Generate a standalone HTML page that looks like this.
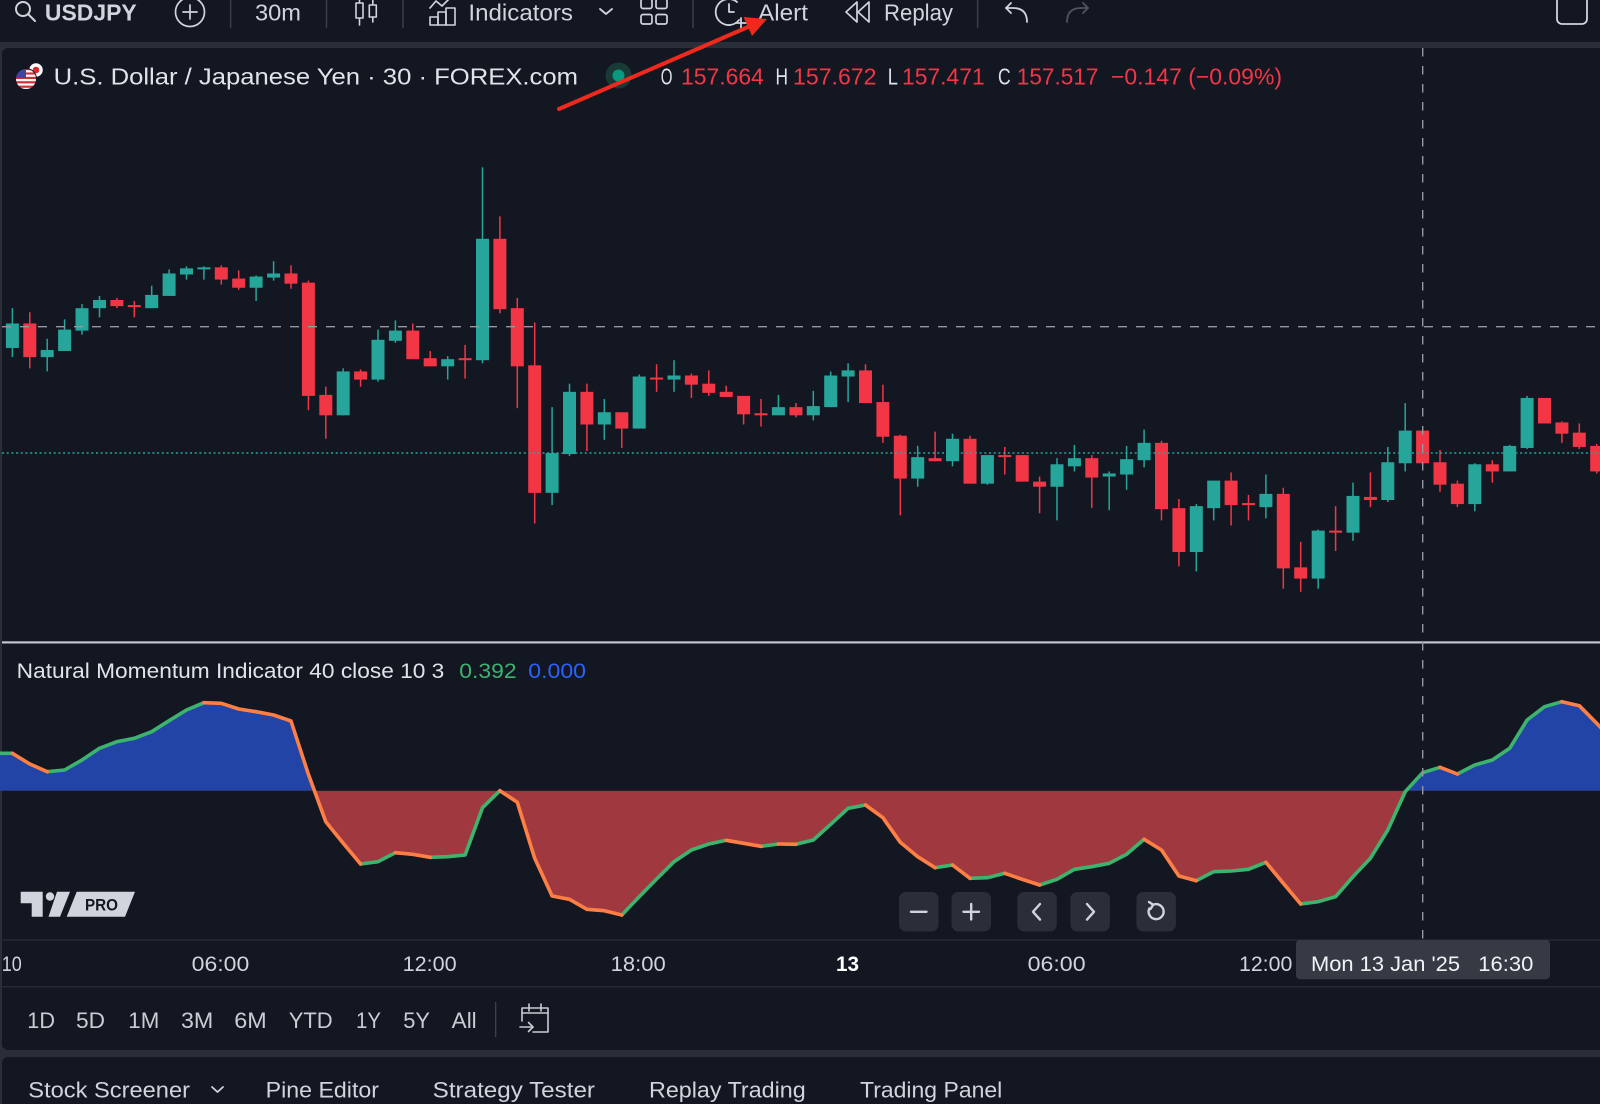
<!DOCTYPE html>
<html><head><meta charset="utf-8"><style>
html,body{margin:0;padding:0;background:#131722;}
svg{display:block;}
text{font-family:"Liberation Sans",Arial,sans-serif;}
</style></head><body>
<svg width="1600" height="1104" viewBox="0 0 1600 1104" xmlns="http://www.w3.org/2000/svg">
<defs>
<clipPath id="cA"><rect x="0" y="640" width="1600" height="150.7"/></clipPath>
<clipPath id="cB"><rect x="0" y="790.7" width="1600" height="150"/></clipPath>
<clipPath id="flagc"><circle cx="26" cy="79" r="10.5"/></clipPath>
</defs>
<rect width="1600" height="1104" fill="#2a2e39"/>
<!-- toolbar -->
<rect x="0" y="-10" width="1600" height="52" fill="#131722"/>
<!-- chart panel -->
<rect x="2" y="48" width="1610" height="1002" rx="6" fill="#131722"/>
<!-- bottom panel -->
<rect x="2" y="1057" width="1610" height="60" rx="6" fill="#131722"/>

<!-- toolbar icons -->
<g fill="none" stroke="#d1d4dc" stroke-width="2" stroke-linecap="round" stroke-linejoin="round">
<circle cx="23" cy="9" r="7"/><line x1="28.5" y1="14.5" x2="35" y2="21"/>
<circle cx="190" cy="12" r="14.5" stroke-width="1.7"/><line x1="183" y1="12" x2="197" y2="12" stroke-width="1.7"/><line x1="190" y1="5" x2="190" y2="19" stroke-width="1.7"/>
<line x1="359.5" y1="0" x2="359.5" y2="25" stroke-width="1.6"/><rect x="356" y="3" width="7" height="15" fill="#131722" stroke-width="1.6"/>
<line x1="372.8" y1="0" x2="372.8" y2="22" stroke-width="1.6"/><rect x="369.3" y="5" width="7" height="12" fill="#131722" stroke-width="1.6"/>
<polyline points="430,8 436,1 442,6 450,-2" stroke-width="1.7"/>
<rect x="430" y="17" width="8" height="8" stroke-width="1.6"/><rect x="438" y="12" width="8" height="13" stroke-width="1.6"/><rect x="446" y="8" width="9" height="17" stroke-width="1.6"/>
<polyline points="600,9 606,14 612,9" stroke-width="1.8"/>
<rect x="641" y="-1" width="11" height="9.5" rx="2" stroke-width="1.7"/><rect x="656" y="-1" width="11" height="9.5" rx="2" stroke-width="1.7"/>
<rect x="641" y="14.5" width="11" height="9.5" rx="2" stroke-width="1.7"/><rect x="656" y="14.5" width="11" height="9.5" rx="2" stroke-width="1.7"/>
<path d="M739 20 A13 13 0 1 1 737 2" stroke-width="1.8"/><polyline points="729,4 729,12 734,12" stroke-width="1.8"/>
<line x1="736" y1="23" x2="746" y2="23" stroke-width="1.8"/><line x1="741" y1="18" x2="741" y2="28" stroke-width="1.8"/>
<polygon points="857,2 846,12 857,22" stroke-width="1.7"/><polygon points="869,2 858,12 869,22" stroke-width="1.7"/>
<path d="M1027 22 Q1027 8 1013 8 H1006" stroke-width="1.8"/><polyline points="1011,3 1006,8 1011,13" stroke-width="1.8"/>
<g stroke="#4f5360"><path d="M1067 22 Q1067 8 1081 8 H1088" stroke-width="1.8"/><polyline points="1083,3 1088,8 1083,13" stroke-width="1.8"/></g>
<rect x="1557" y="-6" width="30" height="30" rx="5" stroke-width="1.8"/>
</g>
<g stroke="#3a3e4a" stroke-width="1.5">
<line x1="230.6" y1="0" x2="230.6" y2="28"/><line x1="326.5" y1="0" x2="326.5" y2="28"/><line x1="403" y1="0" x2="403" y2="28"/><line x1="693" y1="0" x2="693" y2="28"/><line x1="977.6" y1="0" x2="977.6" y2="28"/>
</g>
<g fill="#d1d4dc" font-size="23">
<text x="44.9" y="20.7" font-weight="bold" textLength="91.8" lengthAdjust="spacingAndGlyphs">USDJPY</text>
<text x="255" y="20.7" textLength="46" lengthAdjust="spacingAndGlyphs">30m</text>
<text x="468.4" y="20.7" textLength="104.6" lengthAdjust="spacingAndGlyphs">Indicators</text>
<text x="758" y="20.7" textLength="50" lengthAdjust="spacingAndGlyphs">Alert</text>
<text x="884" y="20.7" textLength="69" lengthAdjust="spacingAndGlyphs">Replay</text>
</g>

<!-- legend row -->
<circle cx="36" cy="70" r="7.5" fill="#ffffff" stroke="#131722" stroke-width="1.5"/><circle cx="36" cy="70" r="3.3" fill="#e0252f"/>
<g clip-path="url(#flagc)">
<rect x="14" y="67" width="25" height="25" fill="#ffffff"/>
<rect x="14" y="68" width="25" height="2.2" fill="#d22f3a"/><rect x="14" y="72.4" width="25" height="2.2" fill="#d22f3a"/><rect x="14" y="76.8" width="25" height="2.2" fill="#d22f3a"/><rect x="14" y="81.2" width="25" height="2.2" fill="#d22f3a"/><rect x="14" y="85.6" width="25" height="2.2" fill="#d22f3a"/>
<rect x="14" y="67" width="12" height="11" fill="#3a4a9a"/>
</g>
<circle cx="26" cy="79" r="10.5" fill="none" stroke="#131722" stroke-width="1"/>
<g font-size="23">
<text x="53.6" y="84.5" fill="#e1e3ea" textLength="524.4" lengthAdjust="spacingAndGlyphs">U.S. Dollar / Japanese Yen · 30 · FOREX.com</text>
<text x="660.7" y="84.5" fill="#e1e3ea" textLength="11.7" lengthAdjust="spacingAndGlyphs">O</text>
<text x="681" y="84.5" fill="#f23645" textLength="82.8" lengthAdjust="spacingAndGlyphs">157.664</text>
<text x="775.5" y="84.5" fill="#e1e3ea" textLength="12.5" lengthAdjust="spacingAndGlyphs">H</text>
<text x="793" y="84.5" fill="#f23645" textLength="83.5" lengthAdjust="spacingAndGlyphs">157.672</text>
<text x="887.8" y="84.5" fill="#e1e3ea" textLength="10.2" lengthAdjust="spacingAndGlyphs">L</text>
<text x="902" y="84.5" fill="#f23645" textLength="82.7" lengthAdjust="spacingAndGlyphs">157.471</text>
<text x="998" y="84.5" fill="#e1e3ea" textLength="12.7" lengthAdjust="spacingAndGlyphs">C</text>
<text x="1016.8" y="84.5" fill="#f23645" textLength="81.7" lengthAdjust="spacingAndGlyphs">157.517</text>
<text x="1111" y="84.5" fill="#f23645" textLength="171" lengthAdjust="spacingAndGlyphs">−0.147 (−0.09%)</text>
</g>
<circle cx="618.5" cy="75.5" r="13" fill="#1a3a36"/><circle cx="618.5" cy="75.5" r="6" fill="#089981"/>

<!-- candles (y in perceived coords, scaled) -->
<g transform="matrix(1,0,0,1.0204,0,0)">
<g fill="#26a69a">
<rect x="11.65" y="302" width="1.5" height="48"/><rect x="5.9" y="317" width="13" height="24"/>
<rect x="46.45" y="332" width="1.5" height="32"/><rect x="40.7" y="343" width="13" height="7"/>
<rect x="63.85" y="313" width="1.5" height="31"/><rect x="58.1" y="323" width="13" height="21"/>
<rect x="81.25" y="298" width="1.5" height="30"/><rect x="75.5" y="302" width="13" height="22"/>
<rect x="98.75" y="290" width="1.5" height="21"/><rect x="93" y="294" width="13" height="8"/>
<rect x="150.95" y="280" width="1.5" height="22"/><rect x="145.2" y="289" width="13" height="13"/>
<rect x="168.35" y="264" width="1.5" height="26"/><rect x="162.6" y="268" width="13" height="22"/>
<rect x="185.75" y="261" width="1.5" height="13"/><rect x="180" y="263" width="13" height="6"/>
<rect x="203.15" y="261" width="1.5" height="13"/><rect x="197.4" y="262" width="13" height="2"/>
<rect x="255.35" y="270" width="1.5" height="25"/><rect x="249.6" y="271" width="13" height="11"/>
<rect x="272.85" y="256" width="1.5" height="19"/><rect x="267.1" y="268" width="13" height="4"/>
<rect x="342.45" y="361" width="1.5" height="46"/><rect x="336.7" y="364" width="13" height="43"/>
<rect x="377.25" y="323" width="1.5" height="51"/><rect x="371.5" y="333" width="13" height="39"/>
<rect x="394.65" y="314" width="1.5" height="22"/><rect x="388.9" y="324" width="13" height="10"/>
<rect x="446.95" y="349" width="1.5" height="23"/><rect x="441.2" y="352" width="13" height="7"/>
<rect x="481.75" y="164" width="1.5" height="192"/><rect x="476" y="234" width="13" height="119"/>
<rect x="551.35" y="399" width="1.5" height="96"/><rect x="545.6" y="444" width="13" height="39"/>
<rect x="568.75" y="376" width="1.5" height="71"/><rect x="563" y="384" width="13" height="61"/>
<rect x="603.55" y="391" width="1.5" height="40"/><rect x="597.8" y="404" width="13" height="12"/>
<rect x="638.45" y="367" width="1.5" height="53"/><rect x="632.7" y="369" width="13" height="51"/>
<rect x="673.25" y="353" width="1.5" height="31"/><rect x="667.5" y="368" width="13" height="4"/>
<rect x="777.65" y="387" width="1.5" height="20"/><rect x="771.9" y="399" width="13" height="8"/>
<rect x="812.55" y="383" width="1.5" height="29"/><rect x="806.8" y="398" width="13" height="9"/>
<rect x="829.95" y="364" width="1.5" height="35"/><rect x="824.2" y="368" width="13" height="31"/>
<rect x="847.35" y="356" width="1.5" height="38"/><rect x="841.6" y="363" width="13" height="6"/>
<rect x="916.95" y="437" width="1.5" height="40"/><rect x="911.2" y="448" width="13" height="21"/>
<rect x="951.75" y="425" width="1.5" height="32"/><rect x="946" y="430" width="13" height="22"/>
<rect x="986.65" y="446" width="1.5" height="29"/><rect x="980.9" y="446" width="13" height="28"/>
<rect x="1056.25" y="449" width="1.5" height="61"/><rect x="1050.5" y="455" width="13" height="22"/>
<rect x="1073.65" y="436" width="1.5" height="26"/><rect x="1067.9" y="449" width="13" height="8"/>
<rect x="1108.45" y="462" width="1.5" height="38"/><rect x="1102.7" y="464" width="13" height="3"/>
<rect x="1125.85" y="437" width="1.5" height="43"/><rect x="1120.1" y="450" width="13" height="15"/>
<rect x="1143.35" y="421" width="1.5" height="37"/><rect x="1137.6" y="434" width="13" height="17"/>
<rect x="1195.55" y="494" width="1.5" height="66"/><rect x="1189.8" y="496" width="13" height="45"/>
<rect x="1212.95" y="471" width="1.5" height="39"/><rect x="1207.2" y="471" width="13" height="27"/>
<rect x="1265.15" y="465" width="1.5" height="43"/><rect x="1259.4" y="484" width="13" height="13"/>
<rect x="1317.45" y="519" width="1.5" height="58"/><rect x="1311.7" y="520" width="13" height="47"/>
<rect x="1352.25" y="473" width="1.5" height="57"/><rect x="1346.5" y="486" width="13" height="36"/>
<rect x="1387.05" y="438" width="1.5" height="54"/><rect x="1381.3" y="453" width="13" height="37"/>
<rect x="1404.45" y="395" width="1.5" height="67"/><rect x="1398.7" y="422" width="13" height="32"/>
<rect x="1474.05" y="454" width="1.5" height="47"/><rect x="1468.3" y="455" width="13" height="39"/>
<rect x="1508.95" y="436" width="1.5" height="26"/><rect x="1503.2" y="437" width="13" height="25"/>
<rect x="1526.35" y="388" width="1.5" height="52"/><rect x="1520.6" y="390" width="13" height="49"/>
</g>
<g fill="#f23645">
<rect x="29.05" y="306" width="1.5" height="55"/><rect x="23.3" y="317" width="13" height="33"/>
<rect x="116.15" y="292" width="1.5" height="10"/><rect x="110.4" y="294" width="13" height="6"/>
<rect x="133.55" y="295" width="1.5" height="16"/><rect x="127.8" y="299" width="13" height="2"/>
<rect x="220.55" y="260" width="1.5" height="19"/><rect x="214.8" y="262" width="13" height="12"/>
<rect x="237.95" y="265" width="1.5" height="19"/><rect x="232.2" y="273" width="13" height="9"/>
<rect x="290.25" y="260" width="1.5" height="23"/><rect x="284.5" y="268" width="13" height="10"/>
<rect x="307.65" y="275" width="1.5" height="127"/><rect x="301.9" y="277" width="13" height="111"/>
<rect x="325.05" y="379" width="1.5" height="51"/><rect x="319.3" y="387" width="13" height="20"/>
<rect x="359.85" y="362" width="1.5" height="17"/><rect x="354.1" y="364" width="13" height="8"/>
<rect x="412.05" y="317" width="1.5" height="35"/><rect x="406.3" y="324" width="13" height="28"/>
<rect x="429.45" y="344" width="1.5" height="15"/><rect x="423.7" y="351" width="13" height="8"/>
<rect x="464.35" y="338" width="1.5" height="33"/><rect x="458.6" y="351" width="13" height="2"/>
<rect x="499.15" y="212" width="1.5" height="95"/><rect x="493.4" y="234" width="13" height="69"/>
<rect x="516.55" y="292" width="1.5" height="108"/><rect x="510.8" y="302" width="13" height="57"/>
<rect x="533.95" y="316" width="1.5" height="197"/><rect x="528.2" y="358" width="13" height="125"/>
<rect x="586.15" y="376" width="1.5" height="66"/><rect x="580.4" y="384" width="13" height="32"/>
<rect x="621.05" y="404" width="1.5" height="35"/><rect x="615.3" y="404" width="13" height="16"/>
<rect x="655.85" y="357" width="1.5" height="27"/><rect x="650.1" y="370" width="13" height="2"/>
<rect x="690.65" y="366" width="1.5" height="24"/><rect x="684.9" y="368" width="13" height="9"/>
<rect x="708.05" y="363" width="1.5" height="25"/><rect x="702.3" y="376" width="13" height="9"/>
<rect x="725.45" y="378" width="1.5" height="11"/><rect x="719.7" y="384" width="13" height="5"/>
<rect x="742.85" y="388" width="1.5" height="28"/><rect x="737.1" y="388" width="13" height="18"/>
<rect x="760.25" y="391" width="1.5" height="27"/><rect x="754.5" y="405" width="13" height="2"/>
<rect x="795.15" y="395" width="1.5" height="14"/><rect x="789.4" y="399" width="13" height="8"/>
<rect x="864.75" y="357" width="1.5" height="38"/><rect x="859" y="363" width="13" height="32"/>
<rect x="882.15" y="377" width="1.5" height="57"/><rect x="876.4" y="394" width="13" height="34"/>
<rect x="899.55" y="426" width="1.5" height="79"/><rect x="893.8" y="427" width="13" height="42"/>
<rect x="934.35" y="423" width="1.5" height="29"/><rect x="928.6" y="449" width="13" height="3"/>
<rect x="969.25" y="427" width="1.5" height="47"/><rect x="963.5" y="430" width="13" height="44"/>
<rect x="1004.05" y="438" width="1.5" height="27"/><rect x="998.3" y="446" width="13" height="2"/>
<rect x="1021.45" y="446" width="1.5" height="26"/><rect x="1015.7" y="446" width="13" height="26"/>
<rect x="1038.85" y="467" width="1.5" height="36"/><rect x="1033.1" y="472" width="13" height="5"/>
<rect x="1091.05" y="446" width="1.5" height="52"/><rect x="1085.3" y="449" width="13" height="19"/>
<rect x="1160.75" y="432" width="1.5" height="78"/><rect x="1155" y="434" width="13" height="65"/>
<rect x="1178.15" y="489" width="1.5" height="66"/><rect x="1172.4" y="498" width="13" height="43"/>
<rect x="1230.35" y="463" width="1.5" height="52"/><rect x="1224.6" y="471" width="13" height="24"/>
<rect x="1247.75" y="485" width="1.5" height="25"/><rect x="1242" y="493" width="13" height="2"/>
<rect x="1282.55" y="478" width="1.5" height="99"/><rect x="1276.8" y="484" width="13" height="73"/>
<rect x="1299.95" y="531" width="1.5" height="49"/><rect x="1294.2" y="556" width="13" height="11"/>
<rect x="1334.85" y="496" width="1.5" height="44"/><rect x="1329.1" y="520" width="13" height="2"/>
<rect x="1369.65" y="463" width="1.5" height="34"/><rect x="1363.9" y="487" width="13" height="3"/>
<rect x="1421.85" y="422" width="1.5" height="34"/><rect x="1416.1" y="422" width="13" height="32"/>
<rect x="1439.25" y="441" width="1.5" height="41"/><rect x="1433.5" y="453" width="13" height="22"/>
<rect x="1456.65" y="471" width="1.5" height="26"/><rect x="1450.9" y="474" width="13" height="20"/>
<rect x="1491.55" y="451" width="1.5" height="22"/><rect x="1485.8" y="455" width="13" height="7"/>
<rect x="1543.75" y="390" width="1.5" height="25"/><rect x="1538" y="390" width="13" height="25"/>
<rect x="1561.15" y="413" width="1.5" height="21"/><rect x="1555.4" y="414" width="13" height="11"/>
<rect x="1578.55" y="415" width="1.5" height="25"/><rect x="1572.8" y="424" width="13" height="14"/>
<rect x="1595.95" y="435" width="1.5" height="29"/><rect x="1590.2" y="437" width="13" height="25"/>
</g>
</g>

<!-- price lines -->
<line x1="2" y1="326.7" x2="1600" y2="326.7" stroke="#9598a1" stroke-width="1.4" stroke-dasharray="9 9"/>
<line x1="2" y1="453" x2="1600" y2="453" stroke="#26a69a" stroke-width="1.5" stroke-dasharray="2 2.7"/>

<!-- pane separator -->
<rect x="2" y="641.3" width="1600" height="2.2" fill="#c2c5cd"/>

<!-- indicator legend -->
<g font-size="21">
<text x="16.7" y="678" fill="#e1e3ea" textLength="427.6" lengthAdjust="spacingAndGlyphs">Natural Momentum Indicator 40 close 10 3</text>
<text x="459.3" y="678" fill="#3cb46e" textLength="57.4" lengthAdjust="spacingAndGlyphs">0.392</text>
<text x="528.3" y="678" fill="#2962ff" textLength="57.7" lengthAdjust="spacingAndGlyphs">0.000</text>
</g>

<!-- indicator fill -->
<g id="fillshape">
<path clip-path="url(#cA)" fill="#2144a6" d="M-5,790.7 L-5,753.3 L12.4,753.3 L29.8,764 L47.2,771.7 L64.6,770 L82,760 L99.5,748.3 L116.9,741.7 L134.3,738.3 L151.7,731.7 L169.1,720.7 L186.5,710 L203.9,702.7 L221.3,703.3 L238.7,709 L256.1,711.7 L273.6,715 L291,721 L308.4,774.3 L325.8,821.7 L343.2,843.3 L360.6,864 L378,861.7 L395.4,852.7 L412.8,854.3 L430.2,857.3 L447.7,856.7 L465.1,855 L482.5,807.7 L499.9,790.7 L517.3,802.3 L534.7,858.3 L552.1,896 L569.5,899.3 L586.9,909.3 L604.3,910.7 L621.8,915 L639.2,896.7 L656.6,879 L674,861.7 L691.4,850 L708.8,844 L726.2,840.3 L743.6,843.3 L761,846.3 L778.4,844 L795.9,844.3 L813.3,840 L830.7,824.3 L848.1,808.3 L865.5,805 L882.9,817.7 L900.3,842.3 L917.7,856.7 L935.1,867.7 L952.5,865 L970,878.3 L987.4,877.7 L1004.8,873.3 L1022.2,879.3 L1039.6,885 L1057,879.3 L1074.4,869.3 L1091.8,866.7 L1109.2,863.3 L1126.6,854.3 L1144.1,839.3 L1161.5,850 L1178.9,876 L1196.3,880.7 L1213.7,871.7 L1231.1,871 L1248.5,869.3 L1265.9,862.3 L1283.3,883.3 L1300.7,904 L1318.2,901.7 L1335.6,896.7 L1353,876.7 L1370.4,858.3 L1387.8,830 L1405.2,791.7 L1422.6,772.7 L1440,767.3 L1457.4,774 L1474.8,765 L1492.3,760 L1509.7,748.3 L1527.1,720 L1544.5,706.7 L1561.9,701.7 L1579.3,705.7 L1596.7,723.3 L1606,733 L1606,790.7 Z"/>
<path clip-path="url(#cB)" fill="#a0393f" d="M-5,790.7 L-5,753.3 L12.4,753.3 L29.8,764 L47.2,771.7 L64.6,770 L82,760 L99.5,748.3 L116.9,741.7 L134.3,738.3 L151.7,731.7 L169.1,720.7 L186.5,710 L203.9,702.7 L221.3,703.3 L238.7,709 L256.1,711.7 L273.6,715 L291,721 L308.4,774.3 L325.8,821.7 L343.2,843.3 L360.6,864 L378,861.7 L395.4,852.7 L412.8,854.3 L430.2,857.3 L447.7,856.7 L465.1,855 L482.5,807.7 L499.9,790.7 L517.3,802.3 L534.7,858.3 L552.1,896 L569.5,899.3 L586.9,909.3 L604.3,910.7 L621.8,915 L639.2,896.7 L656.6,879 L674,861.7 L691.4,850 L708.8,844 L726.2,840.3 L743.6,843.3 L761,846.3 L778.4,844 L795.9,844.3 L813.3,840 L830.7,824.3 L848.1,808.3 L865.5,805 L882.9,817.7 L900.3,842.3 L917.7,856.7 L935.1,867.7 L952.5,865 L970,878.3 L987.4,877.7 L1004.8,873.3 L1022.2,879.3 L1039.6,885 L1057,879.3 L1074.4,869.3 L1091.8,866.7 L1109.2,863.3 L1126.6,854.3 L1144.1,839.3 L1161.5,850 L1178.9,876 L1196.3,880.7 L1213.7,871.7 L1231.1,871 L1248.5,869.3 L1265.9,862.3 L1283.3,883.3 L1300.7,904 L1318.2,901.7 L1335.6,896.7 L1353,876.7 L1370.4,858.3 L1387.8,830 L1405.2,791.7 L1422.6,772.7 L1440,767.3 L1457.4,774 L1474.8,765 L1492.3,760 L1509.7,748.3 L1527.1,720 L1544.5,706.7 L1561.9,701.7 L1579.3,705.7 L1596.7,723.3 L1606,733 L1606,790.7 Z"/>
</g>

<!-- indicator line -->
<g fill="none" stroke-width="3.6" stroke-linejoin="round" stroke-linecap="round">
<g stroke="#3cb46e">
<polyline points="-5,753.3 12.4,753.3"/>
<polyline points="47.2,771.7 64.6,770 82,760 99.5,748.3 116.9,741.7 134.3,738.3 151.7,731.7 169.1,720.7 186.5,710 203.9,702.7"/>
<polyline points="360.6,864 378,861.7 395.4,852.7"/>
<polyline points="430.2,857.3 447.7,856.7 465.1,855 482.5,807.7 499.9,790.7"/>
<polyline points="621.8,915 639.2,896.7 656.6,879 674,861.7 691.4,850 708.8,844 726.2,840.3"/>
<polyline points="761,846.3 778.4,844"/>
<polyline points="795.9,844.3 813.3,840 830.7,824.3 848.1,808.3 865.5,805"/>
<polyline points="935.1,867.7 952.5,865"/>
<polyline points="970,878.3 987.4,877.7 1004.8,873.3"/>
<polyline points="1039.6,885 1057,879.3 1074.4,869.3 1091.8,866.7 1109.2,863.3 1126.6,854.3 1144.1,839.3"/>
<polyline points="1196.3,880.7 1213.7,871.7 1231.1,871 1248.5,869.3 1265.9,862.3"/>
<polyline points="1300.7,904 1318.2,901.7 1335.6,896.7 1353,876.7 1370.4,858.3 1387.8,830 1405.2,791.7 1422.6,772.7 1440,767.3"/>
<polyline points="1457.4,774 1474.8,765 1492.3,760 1509.7,748.3 1527.1,720 1544.5,706.7 1561.9,701.7"/>
</g>
<g stroke="#ff7f45">
<polyline points="12.4,753.3 29.8,764 47.2,771.7"/>
<polyline points="203.9,702.7 221.3,703.3 238.7,709 256.1,711.7 273.6,715 291,721 308.4,774.3 325.8,821.7 343.2,843.3 360.6,864"/>
<polyline points="395.4,852.7 412.8,854.3 430.2,857.3"/>
<polyline points="499.9,790.7 517.3,802.3 534.7,858.3 552.1,896 569.5,899.3 586.9,909.3 604.3,910.7 621.8,915"/>
<polyline points="726.2,840.3 743.6,843.3 761,846.3"/>
<polyline points="778.4,844 795.9,844.3"/>
<polyline points="865.5,805 882.9,817.7 900.3,842.3 917.7,856.7 935.1,867.7"/>
<polyline points="952.5,865 970,878.3"/>
<polyline points="1004.8,873.3 1022.2,879.3 1039.6,885"/>
<polyline points="1144.1,839.3 1161.5,850 1178.9,876 1196.3,880.7"/>
<polyline points="1265.9,862.3 1283.3,883.3 1300.7,904"/>
<polyline points="1440,767.3 1457.4,774"/>
<polyline points="1561.9,701.7 1579.3,705.7 1596.7,723.3 1606,733"/>
</g>
</g>

<!-- TV logo -->
<g fill="#d1d4dc">
<polygon points="20.7,891.7 42.7,891.7 42.7,916.7 31.7,916.7 31.7,903.3 20.7,903.3"/>
<circle cx="50" cy="896.5" r="4.2"/>
<polygon points="57,891.7 70,891.7 60,916.7 48.5,916.7"/>
<polygon points="76.7,891.7 135,891.7 125,916.7 66.7,916.7"/>
</g>
<text x="85" y="910.7" font-size="16.5" font-weight="bold" fill="#131722" textLength="33" lengthAdjust="spacingAndGlyphs">PRO</text>

<!-- nav buttons -->
<g fill="#2a2e39">
<rect x="899" y="892" width="39.5" height="39.5" rx="7"/>
<rect x="951.5" y="892" width="39.5" height="39.5" rx="7"/>
<rect x="1017.3" y="892" width="39.5" height="39.5" rx="7"/>
<rect x="1070.4" y="892" width="39.5" height="39.5" rx="7"/>
<rect x="1136.4" y="892" width="39.5" height="39.5" rx="7"/>
</g>
<g fill="none" stroke="#d1d4dc" stroke-width="2.4" stroke-linecap="round" stroke-linejoin="round">
<line x1="911" y1="911.8" x2="926.5" y2="911.8"/>
<line x1="963.5" y1="911.8" x2="979" y2="911.8"/><line x1="971.2" y1="904" x2="971.2" y2="919.5"/>
<polyline points="1040,904 1033,911.8 1040,919.6"/>
<polyline points="1087,904 1094,911.8 1087,919.6"/>
<path d="M1153 904.8 A7.5 7.5 0 1 1 1149.3 908.5"/>
<polyline points="1149,902 1153.2,904.8 1150.5,909"/>
</g>

<!-- crosshair vertical -->
<line x1="1422.7" y1="48" x2="1422.7" y2="940" stroke="#9598a1" stroke-width="1.4" stroke-dasharray="8.5 9.5"/>

<!-- time axis -->
<rect x="2" y="939.5" width="1600" height="1.2" fill="#2a2e39"/>
<rect x="2" y="986.2" width="1600" height="1.2" fill="#2a2e39"/>
<rect x="1296" y="940" width="254" height="39.3" rx="4" fill="#363a45"/>
<g font-size="21" fill="#d1d4dc">
<text x="1.7" y="971" textLength="20" lengthAdjust="spacingAndGlyphs">10</text>
<text x="191.7" y="971" textLength="57.6" lengthAdjust="spacingAndGlyphs">06:00</text>
<text x="402.7" y="971" textLength="54" lengthAdjust="spacingAndGlyphs">12:00</text>
<text x="610.7" y="971" textLength="55" lengthAdjust="spacingAndGlyphs">18:00</text>
<text x="836" y="971" font-weight="bold" fill="#ffffff" textLength="23" lengthAdjust="spacingAndGlyphs">13</text>
<text x="1027.6" y="971" textLength="58" lengthAdjust="spacingAndGlyphs">06:00</text>
<text x="1239" y="971" textLength="53.3" lengthAdjust="spacingAndGlyphs">12:00</text>
<text x="1311" y="971" fill="#f0f2f6" textLength="149" lengthAdjust="spacingAndGlyphs">Mon 13 Jan '25</text>
<text x="1478.3" y="971" fill="#f0f2f6" textLength="55" lengthAdjust="spacingAndGlyphs">16:30</text>
</g>

<!-- range bar -->
<g font-size="22" fill="#c9ccd3">
<text x="27.3" y="1028" textLength="27.7" lengthAdjust="spacingAndGlyphs">1D</text>
<text x="76" y="1028" textLength="29" lengthAdjust="spacingAndGlyphs">5D</text>
<text x="128.3" y="1028" textLength="31" lengthAdjust="spacingAndGlyphs">1M</text>
<text x="181" y="1028" textLength="32.3" lengthAdjust="spacingAndGlyphs">3M</text>
<text x="234.3" y="1028" textLength="32.4" lengthAdjust="spacingAndGlyphs">6M</text>
<text x="288.7" y="1028" textLength="44" lengthAdjust="spacingAndGlyphs">YTD</text>
<text x="356" y="1028" textLength="25" lengthAdjust="spacingAndGlyphs">1Y</text>
<text x="403.3" y="1028" textLength="26.7" lengthAdjust="spacingAndGlyphs">5Y</text>
<text x="451.7" y="1028" textLength="25" lengthAdjust="spacingAndGlyphs">All</text>
</g>
<line x1="495.7" y1="1002" x2="495.7" y2="1037" stroke="#434651" stroke-width="1.2"/>
<g fill="none" stroke="#c9ccd3" stroke-width="1.6" stroke-linecap="round" stroke-linejoin="round">
<path d="M522 1021 V1008 H548 V1032 H533"/>
<line x1="522" y1="1013" x2="548" y2="1013"/>
<line x1="529" y1="1004" x2="529" y2="1011"/><line x1="541" y1="1004" x2="541" y2="1011"/>
<line x1="520" y1="1027" x2="533" y2="1027"/><polyline points="528.5,1022.5 533,1027 528.5,1031.5"/>
</g>

<!-- bottom tabs -->
<g font-size="22" fill="#d1d4dc">
<text x="28.3" y="1097.5" textLength="161.7" lengthAdjust="spacingAndGlyphs">Stock Screener</text>
<text x="265.7" y="1097.5" textLength="113.3" lengthAdjust="spacingAndGlyphs">Pine Editor</text>
<text x="432.7" y="1097.5" textLength="162.3" lengthAdjust="spacingAndGlyphs">Strategy Tester</text>
<text x="649" y="1097.5" textLength="156.7" lengthAdjust="spacingAndGlyphs">Replay Trading</text>
<text x="860" y="1097.5" textLength="142.3" lengthAdjust="spacingAndGlyphs">Trading Panel</text>
</g>
<polyline points="212,1087 217.5,1092 223,1087" fill="none" stroke="#d1d4dc" stroke-width="1.8" stroke-linecap="round" stroke-linejoin="round"/>

<!-- red annotation arrow -->
<line x1="559" y1="109" x2="748" y2="27" stroke="#f0291c" stroke-width="4" stroke-linecap="round"/>
<polygon points="767,19 752,36 743.5,17" fill="#f0291c"/>
</svg>
</body></html>
